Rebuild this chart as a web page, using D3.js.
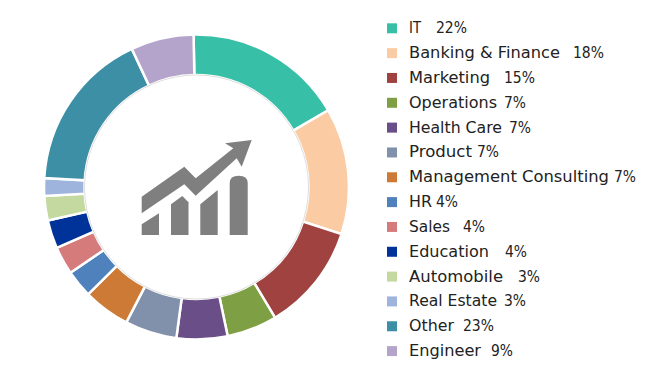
<!DOCTYPE html>
<html>
<head>
<meta charset="utf-8">
<script src="https://cdn.jsdelivr.net/npm/d3@7"></script>
<style>
  html, body { margin: 0; padding: 0; background: #fff; }
  text { font-family: "DejaVu Sans", sans-serif; }
</style>
</head>
<body>
<div id="chart"></div>
<script>
// Names and the percentages printed in the legend
const categories = ["IT", "Banking & Finance", "Marketing", "Operations", "Health Care", "Product",
  "Management Consulting", "HR", "Sales", "Education", "Automobile", "Real Estate", "Other", "Engineer"];
const labels = ["22%", "18%", "15%", "7%", "7%", "7%", "7%", "4%", "4%", "4%", "3%", "3%", "23%", "9%"];
// Slice sizes (degrees)
const shares = [60.9, 48.2, 41, 19.2, 19.4, 19.8, 17.9, 10.5, 10.7, 10.8, 9.3, 6.8, 61.5, 24];
const colors = ["#38bfa7", "#fbcba3", "#a04340", "#7f9f45", "#6a4e88", "#8191ab", "#cc7a36",
  "#4f81bd", "#d67b7c", "#003399", "#c4d9a0", "#9fb4dd", "#3c8fa5", "#b4a4cb"];
// Where each number starts in the legend, and how wide the name before it is
const valueX = [436, 573, 504, 504, 509, 477, 614, 436, 463, 505, 518, 504, 463, 491];
const nameW = [12, 151, 81, 88, 93, 63, 200, 23, 41, 80, 94, 88, 45, 72];

const width = 650, height = 373;
const svg = d3.select("#chart").append("svg")
  .attr("width", width)
  .attr("height", height)
  .style("display", "block");

// Ring
const cx = 196.5, cy = 187, outer = 152.5, inner = 112;
const start = -1.1 * Math.PI / 180;
const pie = d3.pie().sort(null).value(d => d).startAngle(start).endAngle(start + 2 * Math.PI);
const arc = d3.arc().innerRadius(inner).outerRadius(outer);
const ring = svg.append("g").attr("transform", `translate(${cx},${cy})`);
ring.selectAll("path")
  .data(pie(shares))
  .enter().append("path")
  .attr("d", arc)
  .attr("fill", (d, i) => colors[i])
  .attr("stroke", "#fff")
  .attr("stroke-width", 2.5);
ring.append("circle")
  .attr("r", inner)
  .attr("fill", "#fff")
  .attr("stroke", "#bbb")
  .attr("stroke-width", 0.5);

// Growth icon in the middle
const icon = svg.append("g").attr("fill", "#7f7f7f");
[
  "M141.7,224.3 L159,213.3 L159,235 L141.7,235 Z",
  "M171,204.3 L182.3,196 L188.5,202.3 L188.5,235 L171,235 Z",
  "M200.3,204.3 L217.7,190 L217.7,235 L200.3,235 Z",
  "M229.7,183 Q229.7,175.7 238.7,175.7 Q247.7,175.7 247.7,183 L247.7,235 L229.7,235 Z",
  "M141.7,196.7 L184.3,166.7 L195.7,178.3 L233.3,148.3 L225,143.3 L251.7,140 L241.7,166.7 L236.7,158.3 L195.7,195.7 L184.3,184.3 L141.7,213.3 Z"
].forEach(p => icon.append("path").attr("d", p));

// Legend
const legendTop = 28.3, legendStep = 24.83;
const rows = svg.append("g").selectAll("g")
  .data(categories)
  .enter().append("g")
  .attr("transform", (d, i) => `translate(0,${legendTop + i * legendStep})`);
rows.append("rect")
  .attr("x", 387)
  .attr("y", -5)
  .attr("width", 10)
  .attr("height", 10)
  .attr("fill", (d, i) => colors[i]);
rows.append("text")
  .attr("x", 409)
  .attr("y", 5)
  .attr("font-size", "15px")
  .attr("fill", "#222")
  .attr("textLength", (d, i) => nameW[i])
  .attr("lengthAdjust", "spacingAndGlyphs")
  .text(d => d);
rows.append("text")
  .attr("x", (d, i) => valueX[i])
  .attr("y", 5)
  .attr("font-size", "15px")
  .attr("fill", "#222")
  .attr("textLength", (d, i) => labels[i].length === 3 ? 31 : 22)
  .attr("lengthAdjust", "spacingAndGlyphs")
  .text((d, i) => labels[i]);
</script>
</body>
</html>
